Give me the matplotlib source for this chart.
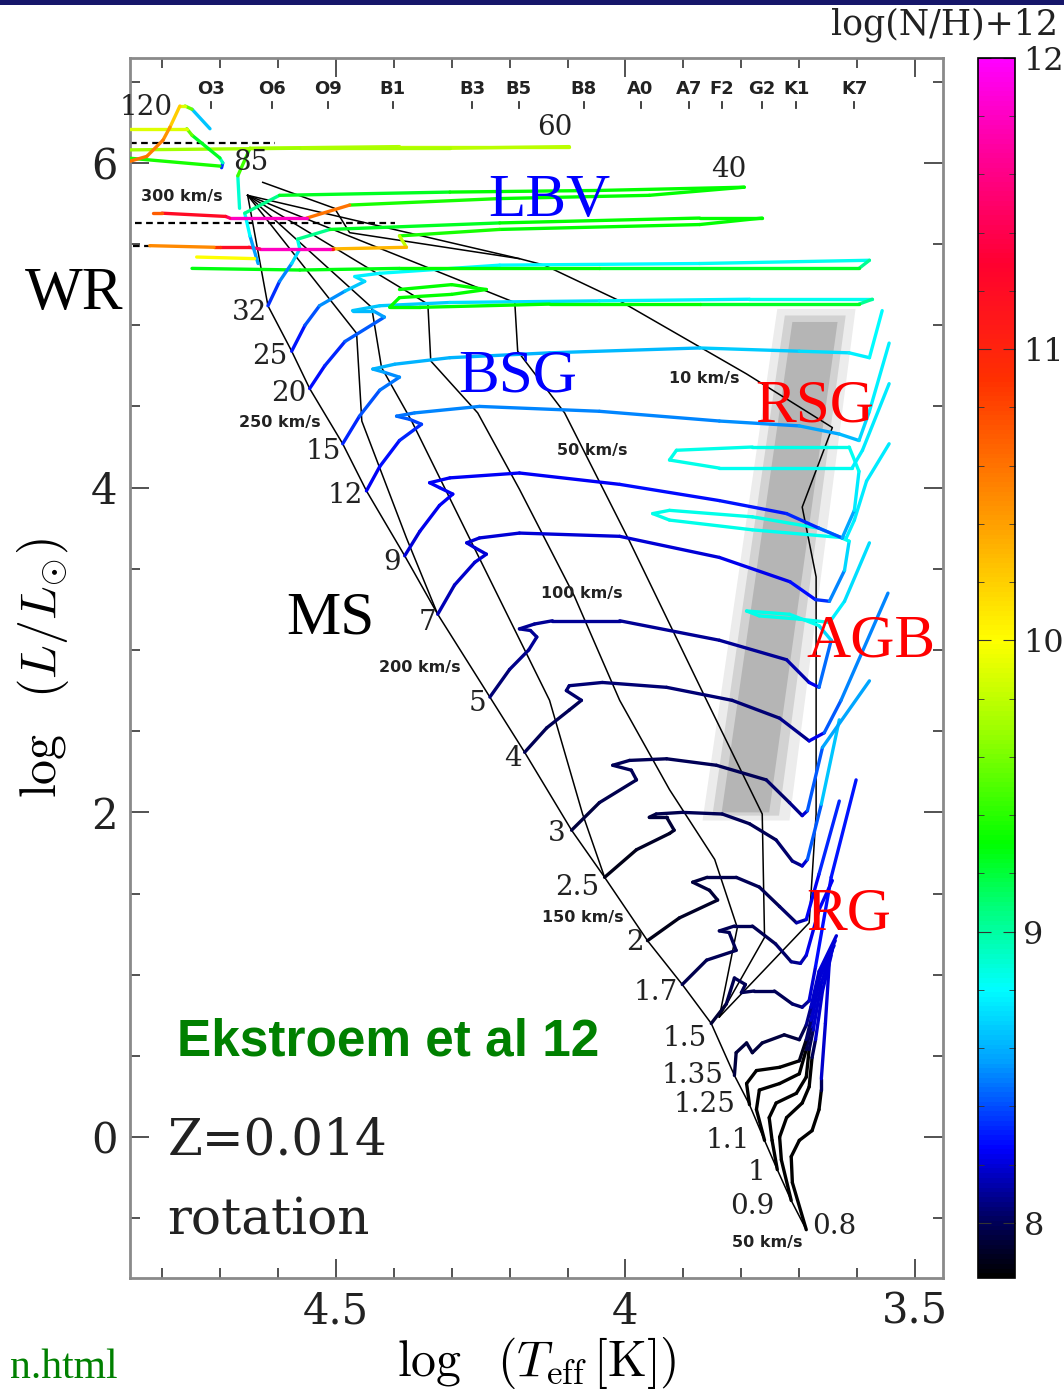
import numpy as np
import matplotlib
matplotlib.use('Agg')
import matplotlib.pyplot as plt
from matplotlib.collections import LineCollection
from matplotlib.colors import LinearSegmentedColormap, Normalize
from matplotlib.patches import Polygon, Rectangle
from matplotlib.ticker import MultipleLocator

plt.rcParams['mathtext.fontset'] = 'cm'

# colour scale log(N/H)+12
cb_vals = [7.81, 8.0, 8.25, 8.55, 8.8, 9.1, 9.3, 9.7, 10.0, 10.4, 10.9, 11.3, 11.7, 12.0]
cb_cols = ['#000000', '#00005a', '#0000ff', '#00a0ff', '#00ffff', '#00ff70', '#00ff00',
           '#a0ff00', '#ffff00', '#ffa000', '#ff3000', '#ff0030', '#ff00a0', '#ff00ff']

# tracks: (log Teff, log L, log(N/H)+12)
m08 = [(3.688,-0.57,7.8),(3.712,-0.28,7.8),(3.714,-0.12,7.8),(3.700,-0.02,7.8),(3.678,0.04,7.8),
       (3.666,0.17,7.8),(3.662,0.29,7.85),(3.662,0.36,8.15),(3.655,0.70,8.2),(3.648,1.09,8.2)]
m09 = [(3.714,-0.39,7.8),(3.731,-0.14,7.8),(3.734,0.00,7.8),(3.722,0.12,7.8),(3.695,0.21,7.8),
       (3.683,0.31,7.8),(3.678,0.49,7.85),(3.672,0.60,8.15),(3.660,0.90,8.2),(3.645,1.12,8.2)]
m10 = [(3.738,-0.20,7.8),(3.747,-0.02,7.8),(3.752,0.12,7.8),(3.740,0.21,7.8),(3.705,0.27,7.8),
       (3.688,0.37,7.8),(3.683,0.54,7.85),(3.676,0.66,8.15),(3.662,0.95,8.2),(3.643,1.15,8.2)]
m11 = [(3.760,-0.02,7.8),(3.774,0.17,7.8),(3.769,0.29,7.8),(3.734,0.33,7.8),(3.700,0.39,7.8),
       (3.688,0.54,7.85),(3.680,0.68,8.15),(3.665,0.98,8.2),(3.640,1.18,8.2)]
m125 = [(3.786,0.20,7.8),(3.791,0.33,7.8),(3.774,0.41,7.8),(3.734,0.43,7.8),(3.700,0.47,7.85),
        (3.688,0.60,7.9),(3.680,0.72,8.15),(3.666,1.00,8.2),(3.638,1.21,8.2)]
m135 = [(3.812,0.38,7.95),(3.809,0.52,7.95),(3.791,0.58,7.95),(3.781,0.52,7.95),(3.764,0.58,7.95),
        (3.726,0.63,7.95),(3.700,0.60,7.95),(3.688,0.69,8.0),(3.680,0.80,8.15),(3.666,1.02,8.2),
        (3.636,1.24,8.2)]
m15 = [(3.852,0.70,7.9),(3.826,0.82,7.95),(3.812,0.98,8.0),(3.793,0.94,8.0),(3.800,0.89,8.0),
       (3.778,0.90,8.0),(3.743,0.90,8.0),(3.712,0.82,8.0),(3.695,0.80,8.05),(3.683,0.84,8.15),
       (3.672,1.05,8.25),(3.645,1.60,8.3),(3.602,2.20,8.3)]
m17 = [(3.902,0.94,7.95),(3.860,1.09,8.0),(3.809,1.15,8.0),(3.821,1.26,8.0),(3.838,1.27,8.0),
       (3.812,1.30,8.0),(3.781,1.30,8.0),(3.741,1.19,8.0),(3.714,1.08,8.05),(3.698,1.07,8.1),
       (3.688,1.12,8.2),(3.666,1.40,8.25),(3.643,1.58,8.25)]
m2 = [(3.962,1.21,7.85),(3.907,1.35,7.9),(3.841,1.46,7.9),(3.855,1.52,7.95),(3.884,1.57,7.95),
      (3.859,1.60,7.95),(3.809,1.60,8.0),(3.769,1.54,8.0),(3.734,1.42,8.0),(3.705,1.32,8.05),
      (3.688,1.34,8.2),(3.666,1.62,8.3),(3.631,2.07,8.35)]
m25 = [(4.036,1.60,7.85),(3.981,1.77,7.9),(3.924,1.87,7.9),(3.916,1.89,7.9),(3.929,1.97,7.95),
       (3.959,1.97,7.95),(3.947,1.99,7.95),(3.902,2.00,8.0),(3.833,1.99,8.0),(3.786,1.93,8.0),
       (3.740,1.83,8.0),(3.712,1.70,8.05),(3.695,1.67,8.1),(3.686,1.71,8.3),(3.662,2.05,8.55),
       (3.631,2.57,8.75)]
m3 = [(4.093,1.89,7.95),(4.045,2.06,7.95),(3.981,2.20,8.0),(3.990,2.26,8.0),(4.022,2.29,8.0),
      (3.993,2.32,8.0),(3.929,2.33,8.0),(3.843,2.29,8.0),(3.757,2.20,8.0),(3.717,2.06,8.05),
      (3.695,1.98,8.1),(3.686,2.01,8.3),(3.660,2.40,8.55),(3.579,2.81,8.6)]
m4 = [(4.174,2.37,8.0),(4.136,2.52,8.0),(4.097,2.63,8.0),(4.076,2.69,8.0),(4.102,2.75,8.05),
      (4.097,2.78,8.05),(4.040,2.80,8.05),(3.929,2.77,8.05),(3.816,2.69,8.05),(3.734,2.58,8.05),
      (3.683,2.44,8.1),(3.657,2.49,8.35),(3.628,2.69,8.5),(3.547,3.35,8.5)]
m5 = [(4.234,2.71,8.05),(4.200,2.88,8.05),(4.167,3.00,8.1),(4.153,3.08,8.1),(4.164,3.12,8.1),
      (4.183,3.13,8.1),(4.157,3.16,8.1),(4.126,3.18,8.1),(4.010,3.18,8.1),(3.838,3.06,8.1),
      (3.722,2.94,8.1),(3.683,2.80,8.15),(3.666,2.77,8.3),(3.645,3.06,8.6),(3.666,3.15,8.8),
      (3.717,3.22,8.85),(3.791,3.24,8.85),(3.769,3.21,8.85),(3.700,3.19,8.85),(3.648,3.17,8.8),
      (3.622,3.30,8.75),(3.579,3.66,8.7)]
m7 = [(4.324,3.22,8.15),(4.295,3.40,8.15),(4.260,3.54,8.2),(4.240,3.59,8.2),(4.260,3.63,8.2),
      (4.274,3.66,8.2),(4.252,3.69,8.2),(4.183,3.72,8.2),(4.010,3.70,8.2),(3.838,3.57,8.2),
      (3.716,3.42,8.25),(3.672,3.31,8.3),(3.648,3.30,8.4),(3.622,3.49,8.6),(3.614,3.67,8.8),
      (3.666,3.75,8.85),(3.781,3.82,8.85),(3.924,3.86,8.85),(3.953,3.84,8.85),(3.924,3.80,8.85),
      (3.781,3.74,8.85),(3.619,3.69,8.8),(3.605,3.80,8.75),(3.584,4.04,8.75),(3.545,4.27,8.75)]
m9 = [(4.381,3.58,8.2),(4.355,3.73,8.2),(4.321,3.89,8.25),(4.298,3.96,8.25),(4.321,4.00,8.25),
      (4.338,4.03,8.25),(4.303,4.06,8.25),(4.183,4.09,8.25),(4.010,4.02,8.25),(3.838,3.92,8.3),
      (3.722,3.84,8.3),(3.666,3.75,8.35),(3.626,3.69,8.45),(3.605,3.86,8.7),(3.597,4.10,8.8),
      (3.614,4.25,8.85),(3.781,4.25,8.85),(3.912,4.23,8.85),(3.924,4.17,8.85),(3.838,4.12,8.85),
      (3.609,4.12,8.8),(3.591,4.23,8.75),(3.545,4.64,8.75)]
m12 = [(4.447,3.98,8.25),(4.424,4.13,8.25),(4.390,4.29,8.3),(4.352,4.39,8.35),(4.372,4.42,8.4),
       (4.395,4.44,8.45),(4.364,4.46,8.5),(4.252,4.50,8.5),(4.045,4.47,8.5),(3.838,4.41,8.5),
       (3.700,4.38,8.55),(3.631,4.33,8.6),(3.597,4.29,8.65),(3.579,4.47,8.75),(3.545,4.89,8.8)]
m15b = [(4.488,4.27,8.3),(4.459,4.44,8.35),(4.424,4.60,8.45),(4.390,4.68,8.5),(4.416,4.71,8.55),
        (4.436,4.73,8.6),(4.398,4.76,8.6),(4.303,4.80,8.6),(4.131,4.83,8.6),(3.872,4.86,8.65),
        (3.700,4.84,8.7),(3.614,4.83,8.75),(3.579,4.80,8.8),(3.557,5.09,8.8)]
m20 = [(4.545,4.61,8.25),(4.519,4.75,8.3),(4.484,4.90,8.35),(4.416,5.05,8.5),(4.436,5.09,8.6),
       (4.471,5.09,8.65),(4.424,5.12,8.65),(4.303,5.14,8.7),(4.045,5.15,8.75),(3.786,5.16,8.8),
       (3.574,5.16,8.85),(3.597,5.13,9.2),(3.872,5.13,9.3),(4.131,5.13,9.3),(4.355,5.11,9.3),
       (4.407,5.11,9.3),(4.39,5.17,9.3),(4.30,5.19,9.3),(4.24,5.22,9.3),(4.30,5.25,9.3),(4.39,5.22,9.3)]
m25b = [(4.576,4.84,8.25),(4.553,5.00,8.35),(4.528,5.12,8.45),(4.484,5.21,8.6),(4.450,5.27,8.7),
        (4.467,5.30,8.75),(4.424,5.32,8.8),(4.217,5.37,8.8),(3.872,5.38,8.8),(3.579,5.40,8.85),
        (3.597,5.35,9.2),(4.045,5.35,9.3),(4.390,5.35,9.3),(4.562,5.34,9.25),(4.748,5.35,9.3)]
m32 = [(4.617,5.12,8.3),(4.597,5.27,8.4),(4.576,5.38,8.6),(4.562,5.47,8.8),(4.566,5.53,8.9),
       (4.510,5.59,9.2),(4.217,5.63,9.3),(3.872,5.66,9.3),(3.764,5.66,9.3),(3.872,5.62,9.3),
       (4.217,5.59,9.3),(4.390,5.55,9.4),(4.378,5.48,10.2),(4.505,5.47,10.4),(4.510,5.47,11.8),
       (4.631,5.47,11.8),(4.650,5.48,11.2),(4.700,5.48,11.2),(4.710,5.48,10.6),(4.821,5.49,10.4)]
m40 = [(4.634,5.38,8.4),(4.648,5.55,8.7),(4.657,5.69,8.9),(4.597,5.80,9.2),(4.303,5.82,9.3),
       (4.045,5.83,9.3),(3.795,5.85,9.3),(3.959,5.80,9.3),(4.217,5.78,9.3),(4.476,5.74,9.4),
       (4.550,5.66,11.8),(4.683,5.66,11.8),(4.690,5.67,11.2),(4.800,5.69,11.2),(4.816,5.69,10.2)]
m60 = [(4.666,5.72,8.6),(4.669,5.92,9.2),(4.648,6.09,9.7),(4.390,6.10,9.8),(4.097,6.10,9.8),
       (4.303,6.09,9.75),(4.562,6.09,9.7),(4.855,6.08,9.7)]
m85 = [(4.697,5.97,8.0),(4.695,6.00,8.7),(4.700,6.03,9.2),(4.748,6.17,9.3),(4.757,6.21,9.8),
       (4.860,6.21,10.0)]
m85b = [(4.860,6.03,9.4),(4.700,5.98,9.3)]
m120 = [(4.717,6.21,8.0),(4.748,6.33,9.3),(4.760,6.35,9.8),(4.769,6.35,10.0),(4.786,6.22,10.4),
        (4.798,6.14,10.5),(4.826,6.04,10.6),(4.855,6.01,10.6)]
wr_extra = [(4.740,5.42,10.0),(4.640,5.41,10.0)]

tracks = [m08, m09, m10, m11, m125, m135, m15, m17, m2, m25, m3, m4, m5, m7, m9, m12, m15b,
          m20, m25b, m32, m40, m60, m85, m85b, m120, wr_extra]

# black lines (ZAMS + iso-velocity lines)
zams = [(3.688,-0.57),(3.714,-0.39),(3.738,-0.20),(3.760,-0.02),(3.786,0.20),(3.812,0.38),
        (3.852,0.70),(3.902,0.94),(3.962,1.21),(4.036,1.60),(4.093,1.89),(4.174,2.37),(4.234,2.71),
        (4.324,3.22),(4.381,3.58),(4.447,3.98),(4.488,4.27),(4.545,4.61),(4.576,4.84),(4.617,5.12),
        (4.652,5.80)]
iso0 = [(4.652,5.80),(4.464,4.95),(4.455,4.41),(4.378,3.69),(4.324,3.22)]
iso1 = [(4.652,5.80),(4.438,5.11),(4.421,4.74),(4.369,4.41),(4.131,2.69),(4.074,1.99),(4.036,1.60)]
iso2 = [(4.652,5.80),(4.341,5.13),(4.336,4.78),(4.255,4.46),(4.183,3.99),(4.088,3.33),(4.010,2.69),
        (3.924,2.14),(3.846,1.71),(3.807,1.29),(3.838,0.74)]
iso3 = [(4.652,5.80),(4.191,5.14),(4.186,4.84),(4.105,4.46),(3.993,3.67),(3.860,2.69),(3.764,1.99),
        (3.760,1.23),(3.838,0.74)]
iso4 = [(4.626,5.88),(4.502,5.72),(4.476,5.57),(4.183,5.41),(4.140,5.37),(4.010,5.15),(3.791,4.70),
        (3.643,4.37),(3.695,3.88),(3.671,3.45),(3.671,1.99),(3.683,1.32),(3.838,0.74)]
iso5 = [(4.652,5.80),(4.183,5.41)]
black_lines = [zams, iso0, iso1, iso2, iso3, iso4, iso5]

dash_lines = [[(4.855,6.12),(4.605,6.12)],
              [(4.847,5.63),(4.398,5.63)],
              [(4.850,5.49),(4.816,5.49)]]

# grey RSG band (outer, middle, core)
band_outer = [(3.867,1.95),(3.717,1.95),(3.603,5.10),(3.738,5.10)]
band_mid = [(3.850,1.98),(3.735,1.98),(3.620,5.06),(3.725,5.06)]
band_core = [(3.834,2.00),(3.752,2.00),(3.634,5.02),(3.712,5.02)]

sp_types = ['O3','O6','O9','B1','B3','B5','B8','A0','A7','F2','G2','K1','K7']
sp_logT = [4.716,4.610,4.514,4.402,4.264,4.184,4.072,3.974,3.890,3.834,3.764,3.705,3.605]

mass_lab = ['120','85','60','40','32','25','20','15','12','9','7','5','4','3','2.5','2','1.7',
            '1.5','1.35','1.25','1.1','1','0.9','0.8']
mass_T = [4.828,4.647,4.122,3.821,4.648,4.614,4.581,4.522,4.483,4.402,4.341,4.255,4.195,4.119,
          4.083,3.983,3.947,3.898,3.884,3.864,3.824,3.774,3.781,3.640]
mass_L = [6.34,6.00,6.22,5.96,5.08,4.81,4.58,4.22,3.95,3.54,3.17,2.67,2.33,1.87,1.54,1.20,0.89,
          0.61,0.38,0.20,-0.02,-0.22,-0.43,-0.55]

vel_lab = ['300 km/s','250 km/s','200 km/s','150 km/s','100 km/s','50 km/s','10 km/s','50 km/s']
vel_T = [4.765,4.597,4.355,4.074,4.076,4.057,3.864,3.755]
vel_L = [5.79,4.40,2.89,1.35,3.35,4.23,4.67,-0.65]

reg_lab = ['WR','LBV','BSG','RSG','AGB','RG','MS']
reg_T = [4.952,4.131,4.186,3.674,3.576,3.614,4.510]
reg_L = [5.10,5.67,4.59,4.41,2.96,1.28,3.10]
reg_col = ['black','blue','blue','red','red','red','black']

# ------------------------------------------------------------------
vmin, vmax = cb_vals[0], cb_vals[-1]
norm = Normalize(vmin, vmax)
cmap = LinearSegmentedColormap.from_list(
    'nh', [((v - vmin) / (vmax - vmin), c) for v, c in zip(cb_vals, cb_cols)])

fig = plt.figure(figsize=(10.64, 13.93), dpi=100)
ax = fig.add_axes([0.1222, 0.0825, 0.7641, 0.8759])

for poly, col in [(band_outer, '#ececec'), (band_mid, '#d2d2d2'), (band_core, '#b5b5b5')]:
    ax.add_patch(Polygon(poly, closed=True, facecolor=col, edgecolor='none', zorder=1))

for line in black_lines:
    p = np.array(line)
    ax.plot(p[:, 0], p[:, 1], color='k', lw=1.1, zorder=2)
for line in dash_lines:
    p = np.array(line)
    ax.plot(p[:, 0], p[:, 1], color='k', lw=1.6, ls=(0, (3, 2)), zorder=2)

for tr in tracks:
    p = np.array(tr)
    seg = np.stack([p[:-1, :2], p[1:, :2]], axis=1)
    lc = LineCollection(seg, cmap=cmap, norm=norm, linewidths=2.4,
                        capstyle='round', joinstyle='round', zorder=3)
    lc.set_array((p[:-1, 2] + p[1:, 2]) / 2)
    ax.add_collection(lc)

ax.set_xlim(4.855, 3.452)
ax.set_ylim(-0.868, 6.646)
ax.xaxis.set_major_locator(MultipleLocator(0.5))
ax.xaxis.set_minor_locator(MultipleLocator(0.1))
ax.yaxis.set_major_locator(MultipleLocator(2))
ax.yaxis.set_minor_locator(MultipleLocator(0.5))
ax.tick_params(which='both', direction='in', top=True, right=True, color='#444', width=1.3)
ax.tick_params(which='major', length=14, pad=9)
ax.tick_params(which='minor', length=7)
for lab in ax.get_xticklabels() + ax.get_yticklabels():
    lab.set_fontfamily('DejaVu Serif')
    lab.set_fontsize(30)
    lab.set_color('#222222')
for sp in ax.spines.values():
    sp.set_color('#8a8a8a')
    sp.set_linewidth(2)
ax.xaxis.set_major_formatter(plt.FuncFormatter(lambda v, p: ('%g' % v)))
ax.yaxis.set_major_formatter(plt.FuncFormatter(lambda v, p: ('%g' % v)))

ax.set_xlabel(r'$\log\ \ (T_{\rm eff}\,[{\rm K}])$', fontsize=36, labelpad=2)
ax.set_ylabel(r'$\log\ \ (L/L_{\odot})$', fontsize=36, labelpad=14)

# spectral types along the top
for s, t in zip(sp_types, sp_logT):
    ax.text(t, 6.455, s, ha='center', va='center', fontsize=13, fontweight='bold',
            family='DejaVu Sans', color='#222', zorder=5)
    ax.plot([t, t], [6.335, 6.375], color='#333', lw=1.3, zorder=5)

for s, t, l in zip(mass_lab, mass_T, mass_L):
    ax.text(t, l, s, ha='center', va='center', fontsize=20, family='DejaVu Serif',
            color='#222', zorder=5)
for s, t, l in zip(vel_lab, vel_T, vel_L):
    ax.text(t, l, s, ha='center', va='center', fontsize=11.5, fontweight='bold',
            family='DejaVu Sans', color='#222', zorder=5)
for s, t, l, c in zip(reg_lab, reg_T, reg_L, reg_col):
    ax.text(t, l, s, ha='center', va='baseline', fontsize=44, family='Liberation Serif',
            color=c, zorder=6)

ax.text(4.409, 0.505, 'Ekstroem et al 12', ha='center', va='baseline', fontsize=37,
        fontweight='bold', family='Liberation Sans', color='#008000', zorder=6)
ax.text(4.790, -0.11, 'Z=0.014', ha='left', va='baseline', fontsize=36,
        family='DejaVu Serif', color='#222')
ax.text(4.790, -0.60, 'rotation', ha='left', va='baseline', fontsize=36,
        family='DejaVu Serif', color='#222')

# colour bar
cax = fig.add_axes([0.9192, 0.0825, 0.0348, 0.8759])
sm = plt.cm.ScalarMappable(norm=norm, cmap=cmap)
cb = fig.colorbar(sm, cax=cax)
cb.set_ticks([8, 9, 10, 11, 12])
cb.ax.yaxis.set_minor_locator(MultipleLocator(0.2))
cb.ax.tick_params(which='both', direction='in', left=True, right=True, color='#333')
cb.ax.tick_params(which='major', length=9, pad=6)
cb.ax.tick_params(which='minor', length=4)
cb.outline.set_linewidth(1.2)
for lab in cb.ax.get_yticklabels():
    lab.set_fontfamily('DejaVu Serif')
    lab.set_fontsize(23)
    lab.set_color('#222')
fig.text(0.994, 0.982, 'log(N/H)+12', ha='right', va='center', fontsize=25,
         family='DejaVu Serif', color='#222')

fig.text(0.111, 0.004, 'n.html', ha='right', va='bottom', fontsize=30,
         family='Liberation Serif', color='#008000')
fig.add_artist(Rectangle((0, 1 - 5 / 1393), 1, 5 / 1393, transform=fig.transFigure,
                         facecolor='#16166a', edgecolor='none'))

fig.savefig('out.png', dpi=100)
